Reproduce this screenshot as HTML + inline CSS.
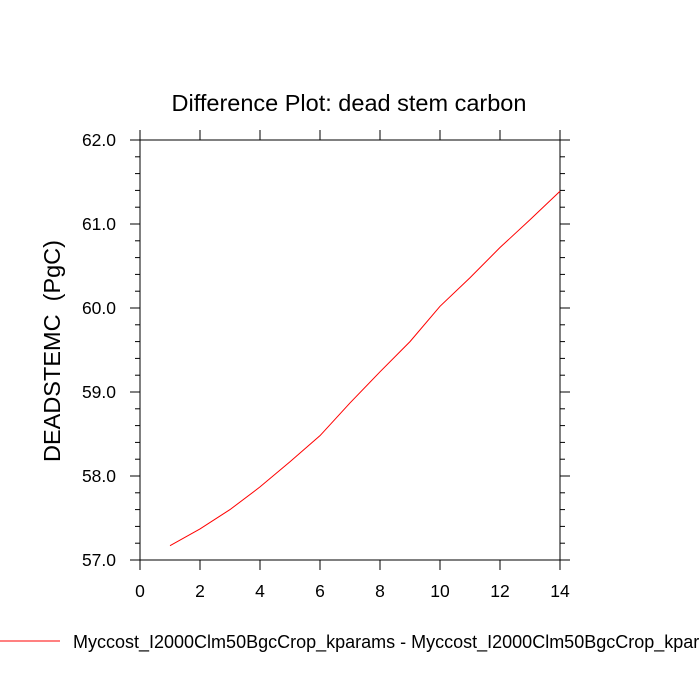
<!DOCTYPE html>
<html><head><meta charset="utf-8"><style>body{margin:0;background:#fff}svg{display:block;font-family:"Liberation Sans",sans-serif}</style></head>
<body>
<svg id="chart" width="700" height="700" xmlns="http://www.w3.org/2000/svg">
<text x="349" y="111" text-anchor="middle" font-size="23.5">Difference Plot: dead stem carbon</text>
<text transform="translate(60,351) rotate(-90)" text-anchor="middle" font-size="23.5" xml:space="preserve">DEADSTEMC  (PgC)</text>
<g id="axes"></g>
<line x1="0" y1="641" x2="60" y2="641" stroke="red" stroke-width="1"/>
<text x="73" y="648" font-size="18">Myccost_I2000Clm50BgcCrop_kparams - Myccost_I2000Clm50BgcCrop_kparams</text>
</svg>
<script>
const xValues=[1,2,3,4,5,6,7,8,9,10,11,12,13,14];
const yValues=[57.17,57.37,57.6,57.87,58.17,58.48,58.87,59.24,59.6,60.02,60.36,60.72,61.05,61.39];
const xTicks=[0,2,4,6,8,10,12,14];
const yTicks=[57,58,59,60,61,62];
const L=140,R=560,T=140,B=560,xmin=0,xmax=14,ymin=57,ymax=62;
const sx=v=>L+(v-xmin)/(xmax-xmin)*(R-L);
const sy=v=>B-(v-ymin)/(ymax-ymin)*(B-T);
const NS="http://www.w3.org/2000/svg",g=document.getElementById('axes');
function mk(t,a){const e=document.createElementNS(NS,t);for(const k in a)e.setAttribute(k,a[k]);g.appendChild(e);return e;}
const st={stroke:'#000','stroke-width':1};
const frame=mk('rect',{x:L,y:T,width:R-L,height:B-T,fill:'none',stroke:'#000','stroke-width':1});


xTicks.forEach(v=>{const x=sx(v);
 mk('line',Object.assign({x1:x,y1:B,x2:x,y2:B+10},st));
 mk('line',Object.assign({x1:x,y1:T,x2:x,y2:T-10},st));
 const t=mk('text',{x:x,y:B+37,'text-anchor':'middle','font-size':17.5});t.textContent=v;
 
 });
for(let v=ymin;v<=ymax+1e-9;v+=0.2){const y=sy(v);const maj=Math.abs(v-Math.round(v))<1e-6;const len=maj?10:5;
 mk('line',Object.assign({x1:L,y1:y,x2:L-len,y2:y},st));
 mk('line',Object.assign({x1:R,y1:y,x2:R+len,y2:y},st));}
yTicks.forEach(v=>{const t=mk('text',{x:L-24,y:sy(v)+6,'text-anchor':'end','font-size':17.5});t.textContent=v.toFixed(1);
 
 });
const p=mk('polyline',{points:xValues.map((x,i)=>sx(x)+','+sy(yValues[i])).join(' '),fill:'none',stroke:'red','stroke-width':1});


</script>
</body></html>
